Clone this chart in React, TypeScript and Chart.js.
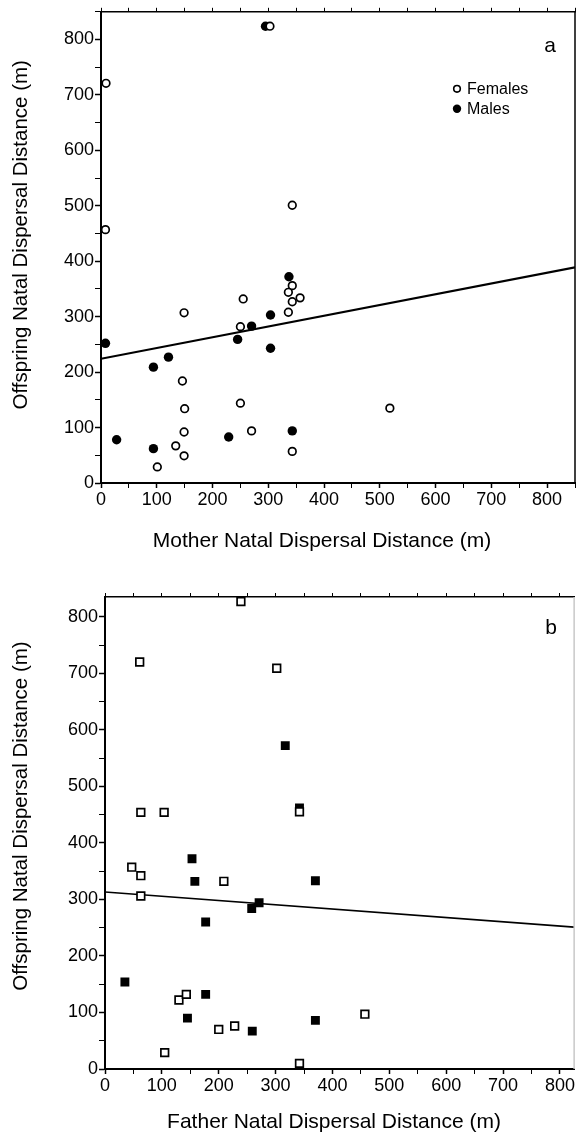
import React, { useEffect, useRef } from 'react';
import { Chart, registerables } from 'chart.js';

Chart.register(...registerables);

const FONT = "'Liberation Sans', Arial, Helvetica, sans-serif";

// ---------- Panel a: mother vs offspring ----------
const femalesAX = [9, 8, 303, 343, 149, 255, 250, 343, 336, 343, 357, 336, 146, 150, 250, 149, 270, 134, 149, 101, 343, 518];
const femalesAY = [721, 457, 824, 501, 307, 332, 282, 356, 344, 327, 334, 308, 184, 134, 144, 92, 94, 67, 49, 29, 57, 135];
const malesAX = [8, 94, 121, 245, 270, 304, 304, 337, 28, 94, 229, 343, 295];
const malesAY = [252, 209, 227, 259, 283, 303, 243, 372, 78, 62, 83, 94, 824];
const regAX = [0, 850];
const regAY = [224, 389];

// ---------- Panel b: father vs offspring ----------
const femalesBX = [239, 61, 302, 63, 104, 342, 47, 63, 63, 209, 130, 143, 200, 228, 105, 342, 457];
const femalesBY = [827, 720, 709, 454, 454, 455, 357, 342, 306, 332, 122, 132, 70, 76, 29, 10, 97];
const malesBX = [317, 342, 153, 158, 177, 258, 271, 35, 177, 145, 259, 370, 370];
const malesBY = [572, 462, 372, 332, 260, 284, 294, 154, 132, 90, 67, 333, 86];
const regBX = [0, 825];
const regBY = [313, 251];

const seriesLabels = ['Females', 'Males'];
const yTitle = 'Offspring Natal Dispersal Distance (m)';
const xTitleA = 'Mother Natal Dispersal Distance (m)';
const xTitleB = 'Father Natal Dispersal Distance (m)';

const pts = (xs: number[], ys: number[]) => xs.map((x, i) => ({ x, y: ys[i] }));

type Layout = {
  xMax: number;
  yMax: number;
  left: number;
  bottom: number;
  top: number;
};

function buildScales(p: Layout) {
  const keep = (s: any) => {
    s.ticks = s.ticks.filter((t: any) => Math.round(t.value) % 50 === 0);
  };
  const lbl = (v: any) => (Math.round(Number(v)) % 100 === 0 ? String(v) : '');
  const tickW = (c: any) => (c.tick && Math.round(c.tick.value) % 100 === 0 ? 1.5 : 1);
  return {
    x: {
      type: 'linear',
      position: 'bottom',
      min: 0,
      max: p.xMax,
      afterBuildTicks: keep,
      ticks: {
        stepSize: 50,
        includeBounds: false,
        autoSkip: false,
        maxRotation: 0,
        minRotation: 0,
        callback: lbl,
        color: '#000',
        font: { family: FONT, size: 18 },
        padding: 1,
      },
      grid: { drawOnChartArea: false, drawTicks: true, tickLength: 5, color: '#000', tickWidth: tickW },
      border: { display: true, color: '#000', width: 2 },
      afterFit: (s: any) => {
        s.height = p.bottom;
      },
    },
    y: {
      type: 'linear',
      position: 'left',
      min: 0,
      max: p.yMax,
      afterBuildTicks: keep,
      ticks: {
        stepSize: 50,
        includeBounds: false,
        autoSkip: false,
        callback: lbl,
        color: '#000',
        font: { family: FONT, size: 18 },
        padding: 1,
      },
      grid: { drawOnChartArea: false, drawTicks: true, tickLength: 6, color: '#000', tickWidth: tickW },
      border: { display: true, color: '#000', width: 2 },
      afterFit: (s: any) => {
        s.width = p.left;
      },
    },
    x2: {
      type: 'linear',
      position: 'top',
      min: 0,
      max: p.xMax,
      afterBuildTicks: keep,
      ticks: { stepSize: 50, includeBounds: false, autoSkip: false, maxRotation: 0, callback: () => '', padding: 0, font: { family: FONT, size: 10 } },
      grid: { drawOnChartArea: false, drawTicks: true, tickLength: 4, color: '#000', tickWidth: 1 },
      border: { display: true, color: '#000', width: 1.5 },
      afterFit: (s: any) => {
        s.height = p.top;
      },
    },
  };
}

type Overlay = {
  panel: string;
  legend: boolean;
  dx: number;
  dy: number;
  rightColor: string;
  xTitle: string;
  xTitleDx: number;
  xTitleDy: number;
  yTitleDy: number;
};

function overlayPlugin(o: Overlay) {
  return {
    id: 'overlay' + o.panel,
    afterDraw(chart: any) {
      const { ctx, chartArea } = chart;
      ctx.save();
      // right frame line
      ctx.strokeStyle = o.rightColor;
      ctx.lineWidth = 1.5;
      ctx.beginPath();
      ctx.moveTo(chartArea.right, chartArea.top);
      ctx.lineTo(chartArea.right, chartArea.bottom);
      ctx.stroke();
      ctx.fillStyle = '#000';
      ctx.textBaseline = 'middle';
      ctx.textAlign = 'center';
      // axis titles
      ctx.font = `21px ${FONT}`;
      ctx.fillText(o.xTitle, chartArea.left + o.xTitleDx, chartArea.bottom + o.xTitleDy);
      ctx.save();
      ctx.translate(21.5, chartArea.top + o.yTitleDy);
      ctx.rotate(-Math.PI / 2);
      ctx.font = `20.5px ${FONT}`;
      ctx.fillText(yTitle, 0, 0);
      ctx.restore();
      // panel letter
      ctx.font = `21px ${FONT}`;
      ctx.fillText(o.panel, chartArea.right - o.dx, chartArea.top + o.dy);
      if (o.legend) {
        const ds = chart.data.datasets;
        const ix = chartArea.right - 118;
        const tx = chartArea.right - 108;
        const rows = [chartArea.top + 77, chartArea.top + 97];
        ctx.font = `16px ${FONT}`;
        ctx.textAlign = 'left';
        rows.forEach((ry, i) => {
          ctx.beginPath();
          ctx.arc(ix, ry, i === 0 ? 3.3 : 4.2, 0, Math.PI * 2);
          if (i === 0) {
            ctx.lineWidth = 1.6;
            ctx.strokeStyle = '#000';
            ctx.fillStyle = '#fff';
            ctx.fill();
            ctx.stroke();
          } else {
            ctx.fillStyle = '#000';
            ctx.fill();
          }
          ctx.fillStyle = '#000';
          ctx.fillText(ds[i].label, tx, ry + 1);
        });
      }
      ctx.restore();
    },
  };
}

function Panel(props: {
  height: number;
  style: string;
  fem: { x: number; y: number }[];
  mal: { x: number; y: number }[];
  reg: { x: number; y: number }[];
  layout: Layout;
  overlay: Overlay;
  regWidth: number;
}) {
  const ref = useRef<HTMLCanvasElement | null>(null);
  useEffect(() => {
    if (!ref.current) return;
    const isCircle = props.style === 'circle';
    const chart = new Chart(ref.current, {
      type: 'scatter',
      data: {
        datasets: [
          {
            label: seriesLabels[0],
            data: props.fem,
            pointStyle: props.style,
            pointRadius: isCircle ? 3.8 : 5.4,
            borderWidth: 1.7,
            borderColor: '#000',
            backgroundColor: '#fff',
          },
          {
            label: seriesLabels[1],
            data: props.mal,
            pointStyle: props.style,
            pointRadius: isCircle ? 4.7 : 6.3,
            borderWidth: 0,
            borderColor: '#000',
            backgroundColor: '#000',
          },
          {
            label: 'fit',
            data: props.reg,
            showLine: true,
            pointRadius: 0,
            borderWidth: props.regWidth,
            borderColor: '#000',
            backgroundColor: '#000',
          } as any,
        ],
      },
      options: {
        animation: false,
        responsive: false,
        devicePixelRatio: 1,
        layout: { padding: { left: 0, top: 0, bottom: 0, right: 1 }, autoPadding: false },
        plugins: { legend: { display: false }, tooltip: { enabled: false } },
        scales: buildScales(props.layout) as any,
      },
      plugins: [overlayPlugin(props.overlay)],
    });
    return () => chart.destroy();
  }, []);
  return <canvas ref={ref} width={576} height={props.height} style={{ display: 'block', width: 576, height: props.height }} />;
}

export default function App() {
  return (
    <div style={{ position: 'absolute', left: 0, top: 0, width: 576, height: 1134, background: '#fff' }}>
      <Panel
        height={570}
        style="circle"
        fem={pts(femalesAX, femalesAY)}
        mal={pts(malesAX, malesAY)}
        reg={pts(regAX, regAY)}
        layout={{ xMax: 850, yMax: 850, left: 101, bottom: 87, top: 11 }}
        overlay={{
          panel: 'a',
          legend: true,
          dx: 25,
          dy: 34,
          rightColor: '#000',
          xTitle: xTitleA,
          xTitleDx: 221,
          xTitleDy: 58,
          yTitleDy: 223,
        }}
        regWidth={2}
      />
      <Panel
        height={564}
        style="rect"
        fem={pts(femalesBX, femalesBY)}
        mal={pts(malesBX, malesBY)}
        reg={pts(regBX, regBY)}
        layout={{ xMax: 825, yMax: 835, left: 105, bottom: 65, top: 27 }}
        overlay={{
          panel: 'b',
          legend: false,
          dx: 23,
          dy: 31,
          rightColor: '#c8c8c8',
          xTitle: xTitleB,
          xTitleDx: 229,
          xTitleDy: 53,
          yTitleDy: 219,
        }}
        regWidth={1.6}
      />
    </div>
  );
}
